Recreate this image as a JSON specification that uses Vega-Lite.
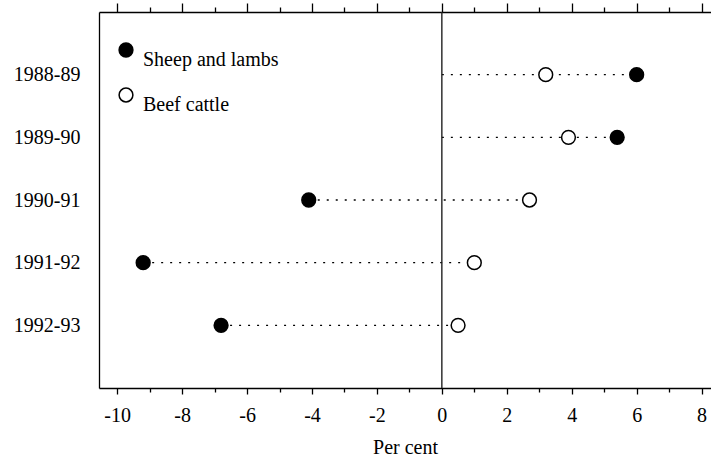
{
  "$schema": "https://vega.github.io/schema/vega-lite/v6.json",
  "width": 612,
  "height": 376,
  "autosize": {"type": "none"},
  "padding": {"left": 99, "top": 12, "right": 0, "bottom": 69},
  "background": "white",
  "config": {
    "font": "Liberation Serif",
    "view": {"stroke": null},
    "axis": {
      "domainColor": "black",
      "tickColor": "black",
      "labelColor": "black",
      "titleColor": "black",
      "labelFont": "Liberation Serif",
      "titleFont": "Liberation Serif",
      "labelFontSize": 20,
      "titleFontSize": 20,
      "titleFontWeight": "normal",
      "grid": false,
      "domainWidth": 1.3,
      "tickWidth": 1.3
    }
  },
  "datasets": {
    "points": [
      {"year": "1988-89", "series": "Sheep and lambs", "value": 6.0},
      {"year": "1988-89", "series": "Beef cattle", "value": 3.2},
      {"year": "1989-90", "series": "Sheep and lambs", "value": 5.4},
      {"year": "1989-90", "series": "Beef cattle", "value": 3.9},
      {"year": "1990-91", "series": "Sheep and lambs", "value": -4.1},
      {"year": "1990-91", "series": "Beef cattle", "value": 2.7},
      {"year": "1991-92", "series": "Sheep and lambs", "value": -9.2},
      {"year": "1991-92", "series": "Beef cattle", "value": 1.0},
      {"year": "1992-93", "series": "Sheep and lambs", "value": -6.8},
      {"year": "1992-93", "series": "Beef cattle", "value": 0.5}
    ],
    "ranges": [
      {"year": "1988-89", "lo": 0, "hi": 6.0},
      {"year": "1989-90", "lo": 0, "hi": 5.4},
      {"year": "1990-91", "lo": -4.1, "hi": 2.7},
      {"year": "1991-92", "lo": -9.2, "hi": 1.0},
      {"year": "1992-93", "lo": -6.8, "hi": 0.5}
    ]
  },
  "layer": [
    {
      "data": {"name": "ranges"},
      "mark": {"type": "rule", "strokeDash": [2, 7], "strokeWidth": 1.3, "color": "black"},
      "encoding": {
        "x": {
          "field": "lo",
          "type": "quantitative",
          "scale": {"domain": [-10.56, 8.29], "nice": false, "zero": false},
          "axis": {
            "orient": "top",
            "values": [-10, -9, -8, -7, -6, -5, -4, -3, -2, -1, 0, 1, 2, 3, 4, 5, 6, 7, 8],
            "labels": false,
            "title": null,
            "tickSize": {"condition": {"test": "datum.value % 2 === 0", "value": 9}, "value": 5}
          }
        },
        "x2": {"field": "hi"},
        "y": {
          "field": "year",
          "type": "nominal",
          "scale": {"type": "point", "padding": 1},
          "axis": {"title": null, "ticks": false, "labelPadding": 19}
        }
      }
    },
    {
      "data": {"values": [{}]},
      "mark": {"type": "rule", "color": "#222222", "strokeWidth": 1.4},
      "encoding": {"x": {"datum": 0, "type": "quantitative", "axis": null}}
    },
    {
      "data": {"name": "points"},
      "mark": {"type": "point", "shape": "circle", "filled": true, "size": 190, "stroke": "black", "strokeWidth": 1.5, "opacity": 1},
      "encoding": {
        "x": {
          "field": "value",
          "type": "quantitative",
          "axis": {
            "orient": "bottom",
            "values": [-10, -9, -8, -7, -6, -5, -4, -3, -2, -1, 0, 1, 2, 3, 4, 5, 6, 7, 8],
            "labelExpr": "datum.value % 2 === 0 ? replace(datum.label, '\u2212', '-') : ''",
            "labelOverlap": false,
            "labelFlush": false,
            "tickSize": {"condition": {"test": "datum.value % 2 === 0", "value": 6}, "value": 4},
            "labelPadding": 11,
            "title": "Per cent",
            "titlePadding": 12
          }
        },
        "y": {
          "field": "year",
          "type": "nominal",
          "scale": {"type": "point", "padding": 1},
          "axis": {"title": null, "ticks": false, "labelPadding": 19}
        },
        "fill": {
          "field": "series",
          "type": "nominal",
          "scale": {"domain": ["Sheep and lambs", "Beef cattle"], "range": ["black", "white"]},
          "legend": {
            "orient": "none",
            "legendX": 17,
            "legendY": 28,
            "title": null,
            "padding": 0,
            "symbolType": "circle",
            "symbolSize": 190,
            "symbolStrokeColor": "black",
            "symbolStrokeWidth": 1.5,
            "labelFont": "Liberation Serif",
            "labelFontSize": 20,
            "labelColor": "black",
            "labelBaseline": "top",
            "labelOffset": 7,
            "rowPadding": 15
          }
        }
      }
    }
  ],
  "resolve": {"axis": {"x": "independent"}}
}
